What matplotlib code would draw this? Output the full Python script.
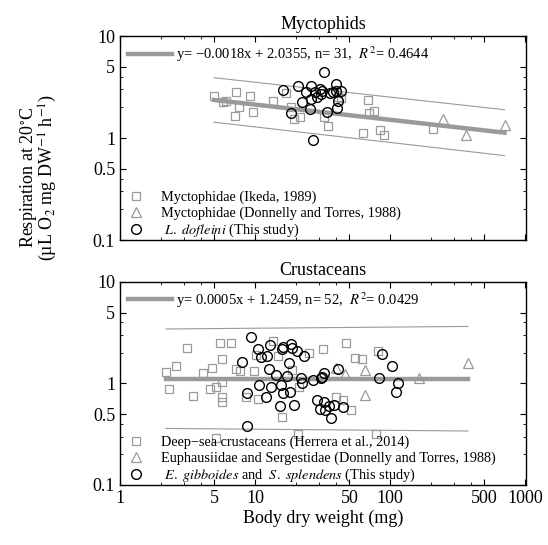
import matplotlib
matplotlib.use('Agg')
import matplotlib.pyplot as plt
from matplotlib.ticker import FixedLocator, FixedFormatter, LogLocator, NullFormatter
import numpy as np

plt.rcParams['font.family'] = ['Liberation Serif', 'DejaVu Serif']
plt.rcParams['mathtext.fontset'] = 'stix'

# ---- Myctophids (top panel) ----
myc_ikeda_x = [4.97, 5.77, 6.1, 7.24, 7.67, 7.08, 9.2, 9.73, 13.5, 17.0, 18.5, 19.5,
               21.7, 32.2, 34.7, 41.5, 43.3, 63.6, 69.3, 70.5, 76.8, 84.6, 90.6, 210]
myc_ikeda_y = [2.60, 2.27, 2.32, 2.81, 2.0, 1.64, 2.60, 1.81, 2.3, 2.78, 2.0, 1.54,
               1.6, 1.6, 1.31, 2.54, 2.45, 1.13, 2.36, 1.75, 1.84, 1.2, 1.07, 1.22]
myc_dt_x = [249, 365, 706]
myc_dt_y = [1.52, 1.07, 1.34]
myc_this_x = [16.2, 18.5, 20.8, 22.2, 23.8, 25.6, 26.1, 26.1, 26.8, 27.9, 29.0, 30.4,
              30.9, 31.6, 32.7, 34.1, 36.0, 38.1, 39.5, 39.9, 40.4, 41.1, 43.3]
myc_this_y = [2.96, 1.77, 3.26, 2.27, 2.84, 1.91, 3.24, 2.41, 0.955, 2.84, 2.54, 3.0,
              2.7, 2.9, 4.47, 1.81, 2.78, 2.84, 3.36, 2.91, 1.95, 2.31, 2.88]
myc_eq = 'y= \u22120.0018x + 2.0355, n= 31,  $R^2$= 0.4644'
myc_fit = (-0.149, 0.477)      # log10 slope, intercept of drawn line
myc_band = (0.218, 0.225)      # band half width (log10) at left / right end

# ---- Crustaceans (bottom panel) ----
cru_herrera_x = [2.19, 2.31, 2.59, 3.12, 3.50, 4.15, 4.65, 4.78, 5.12, 5.51, 5.67, 5.67,
                 5.70, 5.70, 6.61, 7.24, 7.76, 8.55, 9.85, 10.2, 10.5, 13.5, 14.9, 15.8,
                 18.7, 21.0, 21.3, 25.3, 31.8, 39.9, 45.2, 47.3, 51.3, 55.2, 62.5, 79.0,
                 81.8, 5.14]
cru_herrera_y = [1.29, 0.88, 1.49, 2.25, 0.76, 1.28, 0.88, 1.41, 0.92, 2.52, 1.04, 1.73,
                 0.73, 0.66, 2.52, 1.38, 1.34, 0.74, 1.34, 1.91, 0.71, 2.62, 1.87, 0.47,
                 1.36, 0.32, 0.93, 1.98, 2.17, 0.74, 0.69, 2.50, 0.55, 1.77, 1.73, 0.32,
                 2.09, 0.29]
cru_dt_x = [65.5, 65.5, 163, 378, 46.6, 39.9]
cru_dt_y = [1.36, 0.77, 1.12, 1.58, 1.24, 1.41]
cru_this_x = [7.98, 8.69, 9.31, 10.6, 10.8, 11.1, 12.0, 12.2, 12.6, 12.9, 13.1, 14.3,
              15.4, 15.6, 15.8, 16.0, 16.1, 17.4, 18.0, 18.2, 18.4, 18.7, 19.3, 20.6,
              22.0, 22.2, 23.1, 27.1, 28.7, 30.4, 30.9, 31.3, 32.2, 32.7, 33.1, 35.6,
              36.3, 38.8, 41.0, 44.8, 82.3, 88.0, 103, 111, 114, 8.69]
cru_this_y = [1.64, 0.80, 2.89, 2.20, 0.97, 1.84, 0.73, 1.87, 1.38, 2.40, 0.93, 1.21,
              0.60, 0.97, 2.17, 2.31, 0.80, 1.19, 1.58, 0.82, 2.45, 2.22, 0.61, 2.09,
              1.12, 1.00, 1.87, 1.08, 0.69, 0.56, 1.12, 1.17, 0.66, 1.28, 0.55, 0.60,
              0.46, 0.61, 1.38, 0.59, 1.14, 1.95, 1.49, 0.82, 1.02, 0.38]
cru_eq = 'y= 0.0005x + 1.2459, n= 52,  $R^2$= 0.0429'
cru_fit = (0.0, 0.047)
cru_band = (0.49, 0.515)

xticks = [1, 5, 10, 50, 100, 500, 1000]
yticks = [0.1, 0.5, 1, 5, 10]

GRAY = '#9a9a9a'

fig = plt.figure(figsize=(5.48, 5.45), dpi=100)
ax1 = fig.add_axes([0.219, 0.5596, 0.741, 0.3743])
ax2 = fig.add_axes([0.219, 0.1101, 0.741, 0.3725])


def panel(ax, title, sq, tri, circ, labels, fit, band, eq):
    xs = np.concatenate([sq[0], tri[0], circ[0]])
    lx = np.linspace(np.log10(min(xs)), np.log10(max(xs)), 50)
    ly = fit[1] + fit[0] * lx
    hw = np.linspace(band[0], band[1], lx.size)
    ax.plot(10 ** lx, 10 ** (ly + hw), color=GRAY, lw=0.8)
    ax.plot(10 ** lx, 10 ** (ly - hw), color=GRAY, lw=0.8)
    fitline, = ax.plot(10 ** lx, 10 ** ly, color=GRAY, lw=3.2, label=eq)

    h1, = ax.plot(sq[0], sq[1], 's', ms=6, mfc='none', mec=GRAY, mew=0.9, ls='none')
    h2, = ax.plot(tri[0], tri[1], '^', ms=7, mfc='none', mec=GRAY, mew=0.9, ls='none')
    h3, = ax.plot(circ[0], circ[1], 'o', ms=7, mfc='none', mec='black', mew=1.0, ls='none')

    ax.set_xscale('log')
    ax.set_yscale('log')
    ax.set_xlim(1, 1020)
    ax.set_ylim(0.1, 10)
    ax.xaxis.set_major_locator(FixedLocator(xticks))
    ax.xaxis.set_major_formatter(FixedFormatter([str(t) for t in xticks]))
    ax.yaxis.set_major_locator(FixedLocator(yticks))
    ax.yaxis.set_major_formatter(FixedFormatter([str(t) for t in yticks]))
    ax.xaxis.set_minor_locator(LogLocator(subs=(2, 3, 4)))
    ax.yaxis.set_minor_locator(LogLocator(subs=(2, 3, 4)))
    ax.xaxis.set_minor_formatter(NullFormatter())
    ax.yaxis.set_minor_formatter(NullFormatter())
    ax.tick_params(which='both', direction='in', top=True, right=True, labelsize=13)
    ax.tick_params(which='major', length=4, width=0.8)
    ax.tick_params(which='minor', length=2.5, width=0.6)
    for s in ax.spines.values():
        s.set_linewidth(1.0)
    ax.set_title(title, fontsize=13, pad=5)

    leg1 = ax.legend(handles=[fitline], loc='upper left', frameon=False, fontsize=10.5,
                     handlelength=3.0, borderaxespad=0.15, handletextpad=0.3)
    ax.add_artist(leg1)
    ax.legend([h1, h2, h3], labels, loc='lower left', bbox_to_anchor=(0, -0.025),
              frameon=False, fontsize=10.3, handlelength=1.5, borderaxespad=0.0,
              labelspacing=0.15, handletextpad=1.0)


panel(ax1, 'Myctophids', (myc_ikeda_x, myc_ikeda_y), (myc_dt_x, myc_dt_y),
      (myc_this_x, myc_this_y),
      ['Myctophidae (Ikeda, 1989)', 'Myctophidae (Donnelly and Torres, 1988)',
       r' $\it{L.\ dofleini}$ (This study)'],
      myc_fit, myc_band, myc_eq)
panel(ax2, 'Crustaceans', (cru_herrera_x, cru_herrera_y), (cru_dt_x, cru_dt_y),
      (cru_this_x, cru_this_y),
      ['Deep\u2212sea crustaceans (Herrera et al., 2014)',
       'Euphausiidae and Sergestidae (Donnelly and Torres, 1988)',
       r' $\it{E.\ gibboides}$ and  $\it{S.\ splendens}$ (This study)'],
      cru_fit, cru_band, cru_eq)

ax1.tick_params(labelbottom=False)
ax2.set_xlabel('Body dry weight (mg)', fontsize=13, labelpad=2)

fig.text(0.07, 0.675, 'Respiration at 20$^{\\circ}$C\n(\u00b5L O$_2$ mg DW$^{-1}$ h$^{-1}$)',
         rotation=90, ha='center', va='center', fontsize=13, linespacing=0.9)

fig.savefig('out.png', dpi=100)
